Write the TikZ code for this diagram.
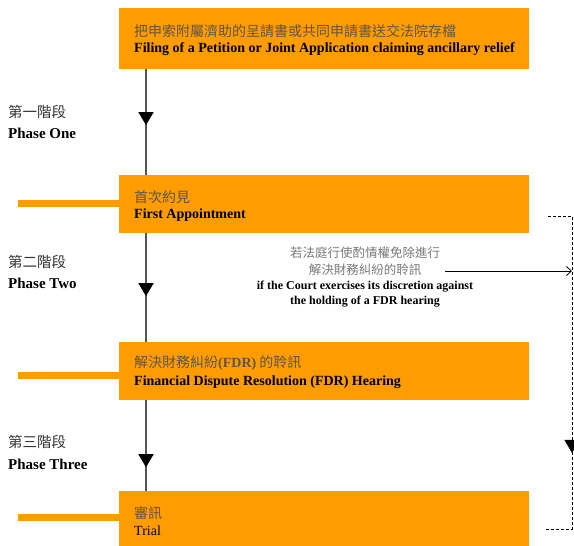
\documentclass[tikz,border=0pt]{standalone}
\usepackage{fontspec}
\setmainfont{Liberation Serif}
\newfontfamily\cjk{Noto Sans CJK TC}
\usetikzlibrary{arrows.meta,decorations.markings}
\definecolor{boxorange}{RGB}{255,156,0}
\definecolor{cjkgray}{RGB}{95,85,70}
\definecolor{notegray}{RGB}{120,120,120}
\definecolor{linegray}{RGB}{85,85,85}
\tikzset{
  stagebox/.style={fill=boxorange, draw=none, minimum width=410pt, inner sep=0pt},
  zhbox/.style={anchor=west, inner sep=0pt, text=cjkgray, font=\cjk\fontsize{14}{15}\selectfont},
  enbox/.style={anchor=west, inner sep=0pt, text=black, font=\bfseries\fontsize{14}{16}\selectfont},
  zhphase/.style={anchor=west, inner sep=0pt, text=black!80, font=\cjk\fontsize{14.5}{16}\selectfont},
  enphase/.style={anchor=west, inner sep=0pt, text=black, font=\bfseries\fontsize{15}{17}\selectfont},
  zhnote/.style={inner sep=0pt, text=notegray, font=\cjk\fontsize{12.5}{14}\selectfont},
  ennote/.style={inner sep=0pt, text=black, font=\bfseries\fontsize{12}{14}\selectfont},
  sidebar/.style={draw=boxorange, line width=7pt},
  spine/.style={draw=linegray, line width=1.2pt, postaction={decorate}},
  midtip/.style={decoration={markings, mark=at position #1 with {\arrow[black]{Triangle[length=13pt,width=15pt]}}}},
  skipline/.style={draw=black, line width=0.8pt, dash pattern=on 3pt off 2pt},
}
\begin{document}
\begin{tikzpicture}[x=1pt,y=-1pt]
\useasboundingbox (0,0) rectangle (574,546);
\fill[white] (0,0) rectangle (574,546);

% stage boxes
\node[stagebox, minimum height=61pt] (b1) at (324,38.5) {};
\node[stagebox, minimum height=58pt] (b2) at (324,204) {};
\node[stagebox, minimum height=58pt] (b3) at (324,371) {};
\node[stagebox, minimum height=56pt] (b4) at (324,519) {};

% box texts
\node[zhbox] (b1zh) at (134,31) {把申索附屬濟助的呈請書或共同申請書送交法院存檔};
\node[enbox] (b1en) at (134,49) {Filing of a Petition or Joint Application claiming ancillary relief};
\node[zhbox] (b2zh) at (134,197) {首次約見};
\node[enbox] (b2en) at (134,215) {First Appointment};
\node[zhbox] (b3zh) at (134,363) {解決財務糾紛{\rmfamily\bfseries(FDR)} 的聆訊};
\node[enbox] (b3en) at (134,382) {Financial Dispute Resolution (FDR) Hearing};
\node[zhbox] (b4zh) at (134,513) {審訊};
\node[enbox, font=\fontsize{14}{16}\selectfont] (b4en) at (134,531) {Trial};

% phase labels
\node[zhphase] (p1zh) at (8,112) {第一階段};
\node[enphase] (p1en) at (8,133) {Phase One};
\node[zhphase] (p2zh) at (8,262) {第二階段};
\node[enphase] (p2en) at (8,283) {Phase Two};
\node[zhphase] (p3zh) at (8,442) {第三階段};
\node[enphase] (p3en) at (8,464) {Phase Three};

% note
\node[zhnote] (n1) at (365,253) {若法庭行使酌情權免除進行};
\node[zhnote] (n2) at (365,270) {解決財務糾紛的聆訊};
\node[ennote] (n3) at (365,287) {if the Court exercises its discretion against};
\node[ennote] (n4) at (365,302) {the holding of a FDR hearing};

% side bars
\coordinate (s2) at (18,203);
\coordinate (s3) at (18,375.5);
\coordinate (s4) at (18,517);
\draw[sidebar] (s2) -- (s2 -| b2.west);
\draw[sidebar] (s3) -- (s3 -| b3.west);
\draw[sidebar] (s4) -- (s4 -| b4.west);

% spine
\coordinate (sx) at (146,0);
\draw[spine, midtip=0.53] (b1.south -| sx) -- (b2.north -| sx);
\draw[spine, midtip=0.58] (b2.south -| sx) -- (b3.north -| sx);
\draw[spine, midtip=0.74] (b3.south -| sx) -- (b4.north -| sx);

% skip path
\coordinate (d1) at (548,216);
\coordinate (d2) at (572,216);
\coordinate (d3) at (572,529);
\coordinate (d4) at (545,529);
\draw[skipline] (d1) -- (d2) -- (d3) -- (d4);
\path[postaction={decorate}, midtip=0.757] (d2) -- (d3);
\coordinate (a0) at (445,271);
\draw[line width=0.8pt, -{Straight Barb[length=5pt,width=9pt]}] (a0) -- (a0 -| d2);
\end{tikzpicture}
\end{document}
